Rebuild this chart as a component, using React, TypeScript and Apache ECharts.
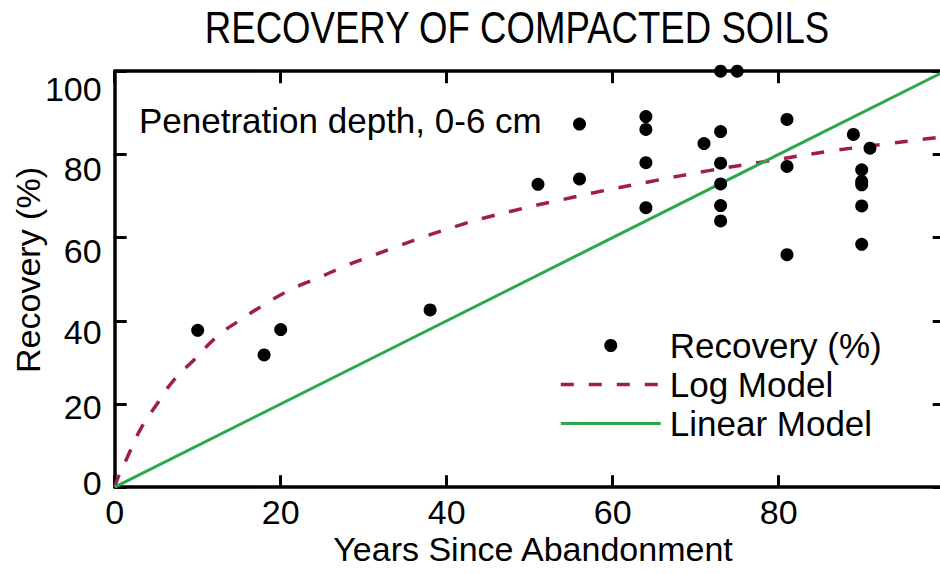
import React, { useEffect, useRef } from "react";
import * as echarts from "echarts";

// ---------- data ----------
const scatterYears = [10, 18, 20, 38, 51, 56, 56, 64, 64, 64, 64, 71, 73, 75, 73, 73, 73, 73, 73, 81, 81, 81, 89, 91, 90, 90, 90, 90, 90];
const scatterRecovery = [37.7, 31.8, 37.9, 42.6, 72.8, 87.3, 74.1, 89.1, 86.0, 78.0, 67.2, 82.6, 100, 100, 85.5, 77.9, 72.9, 67.7, 64.0, 88.4, 77.1, 55.9, 84.8, 81.5, 76.3, 73.5, 72.7, 67.6, 58.4];

const logYears = [0, 0.4, 1.5, 3.1, 5.2, 7.2, 9.6, 12.4, 15.2, 18.2, 21.2, 24.5, 27.7, 31, 34.2, 37.7, 41.1, 44.5, 47.9, 51.3, 54.8, 58, 64.6, 71.6, 78.7, 85.9, 92.9, 100];
const logRecovery = [0, 2.3, 7.1, 13.9, 20.3, 25.9, 30.7, 36.3, 40.3, 44.1, 47.5, 50.3, 53.1, 55.6, 58, 60.5, 62.7, 64.7, 66.4, 68, 69.5, 70.9, 73.5, 76.1, 78.4, 80.7, 82.5, 84.3];

const linearYears = [0, 100];
const linearRecovery = [0, 100];

const xTicks = [0, 20, 40, 60, 80, 100];
const yTicks = [0, 20, 40, 60, 80, 100];

const titleText = "RECOVERY OF COMPACTED SOILS";
const noteText = "Penetration depth, 0-6 cm";
const xTitle = "Years Since Abandonment";
const yTitle = "Recovery (%)";
const seriesNames = ["Recovery (%)", "Log Model", "Linear Model"];

// ---------- styles ----------
const REGULAR = "'Liberation Sans', Arial, sans-serif";
const LOG_COLOR = "#A11D4F";
const LIN_COLOR = "#2CA84A";
const TICK_FONT = 34;
const LOG_LINE = { color: LOG_COLOR, width: 3.5, type: [13, 15] as number[] };
const LIN_LINE = { color: LIN_COLOR, width: 3, type: "solid" };

// vertical offsets of the y tick labels (px, down positive)
const yLabelShift: Record<number, number> = { 0: -4, 20: 3, 40: 11, 60: 13, 80: 15, 100: 18 };

const zip = (a: number[], b: number[]) => a.map((v, i) => [v, b[i]]);

function buildOption(): any {
  const rich: Record<string, any> = {};
  yTicks.forEach((t) => {
    const d = yLabelShift[t] || 0;
    rich["o" + t] = {
      fontFamily: REGULAR,
      fontSize: TICK_FONT,
      color: "#000",
      padding: d >= 0 ? [2 * d, 0, 0, 0] : [0, 0, -2 * d, 0],
    };
  });

  const axisLine = { show: true, onZero: false, lineStyle: { color: "#000", width: 3.5 } };
  const axisTick = { show: true, inside: true, length: 12, lineStyle: { color: "#000", width: 3 } };

  return {
    animation: false,
    backgroundColor: "#fff",
    grid: { left: 114.7, top: 71.2, width: 830, height: 416, containLabel: false },
    xAxis: [
      {
        type: "value",
        position: "bottom",
        min: 0,
        max: 100,
        interval: 20,
        axisLine,
        axisTick,
        splitLine: { show: false },
        axisLabel: {
          show: true,
          margin: 8,
          fontFamily: REGULAR,
          fontSize: TICK_FONT,
          color: "#000",
          formatter: (v: number) => (xTicks.indexOf(v) >= 0 && v < 100 ? String(v) : ""),
        },
      },
      {
        type: "value",
        position: "top",
        min: 0,
        max: 100,
        interval: 20,
        axisLine,
        axisTick,
        splitLine: { show: false },
        axisLabel: { show: false },
      },
    ],
    yAxis: [
      {
        type: "value",
        position: "left",
        min: 0,
        max: 100,
        interval: 20,
        axisLine,
        axisTick,
        splitLine: { show: false },
        axisLabel: {
          show: true,
          margin: 13,
          fontFamily: REGULAR,
          fontSize: TICK_FONT,
          color: "#000",
          formatter: (v: number) => `{o${v}|${v}}`,
          rich,
        },
      },
      {
        type: "value",
        position: "right",
        min: 0,
        max: 100,
        interval: 20,
        axisLine,
        axisTick,
        splitLine: { show: false },
        axisLabel: { show: false },
      },
    ],
    legend: {
      orient: "vertical",
      left: 559,
      top: 328,
      padding: 0,
      itemGap: 4,
      itemWidth: 100,
      itemHeight: 13,
      selectedMode: false,
      textStyle: { fontFamily: REGULAR, fontSize: 35, color: "#000", padding: [0, 0, 0, 4] },
      data: [
        { name: seriesNames[0], icon: "circle", itemStyle: { color: "#000", opacity: 1 } },
        { name: seriesNames[1], itemStyle: { opacity: 0 }, lineStyle: { ...LOG_LINE } },
        { name: seriesNames[2], itemStyle: { opacity: 0 }, lineStyle: { ...LIN_LINE } },
      ],
    },
    graphic: [
      {
        type: "text",
        x: 517,
        y: 28,
        scaleX: 0.832,
        style: { text: titleText, font: `44px ${REGULAR}`, fill: "#000", textAlign: "center", textVerticalAlign: "middle" },
      },
      {
        type: "text",
        x: 139,
        y: 120,
        style: { text: noteText, font: `35px ${REGULAR}`, fill: "#000", textAlign: "left", textVerticalAlign: "middle" },
      },
      {
        type: "text",
        x: 533,
        y: 549,
        style: { text: xTitle, font: `34px ${REGULAR}`, fill: "#000", textAlign: "center", textVerticalAlign: "middle" },
      },
      {
        type: "text",
        x: 28,
        y: 270,
        rotation: Math.PI / 2,
        style: { text: yTitle, font: `34px ${REGULAR}`, fill: "#000", textAlign: "center", textVerticalAlign: "middle" },
      },
    ],
    series: [
      {
        name: seriesNames[0],
        type: "scatter",
        xAxisIndex: 0,
        yAxisIndex: 0,
        symbol: "circle",
        symbolSize: 13,
        itemStyle: { color: "#000", opacity: 1 },
        data: zip(scatterYears, scatterRecovery),
        z: 5,
      },
      {
        name: seriesNames[1],
        type: "line",
        xAxisIndex: 0,
        yAxisIndex: 0,
        smooth: true,
        symbol: "none",
        showSymbol: false,
        itemStyle: { color: LOG_COLOR },
        lineStyle: { ...LOG_LINE },
        data: zip(logYears, logRecovery),
        z: 3,
      },
      {
        name: seriesNames[2],
        type: "line",
        xAxisIndex: 0,
        yAxisIndex: 0,
        symbol: "none",
        showSymbol: false,
        itemStyle: { color: LIN_COLOR },
        lineStyle: { ...LIN_LINE },
        data: zip(linearYears, linearRecovery),
        z: 3,
      },
    ],
  };
}

export default function App() {
  const ref = useRef<HTMLDivElement>(null);
  useEffect(() => {
    if (!ref.current) return;
    const chart = echarts.init(ref.current, undefined, { renderer: "svg" });
    chart.setOption(buildOption());
    return () => {
      chart.dispose();
    };
  }, []);
  return (
    <div style={{ position: "fixed", left: 0, top: 0, width: 940, height: 573, overflow: "hidden", background: "#fff" }}>
      <div ref={ref} style={{ width: 960, height: 573 }} />
    </div>
  );
}
